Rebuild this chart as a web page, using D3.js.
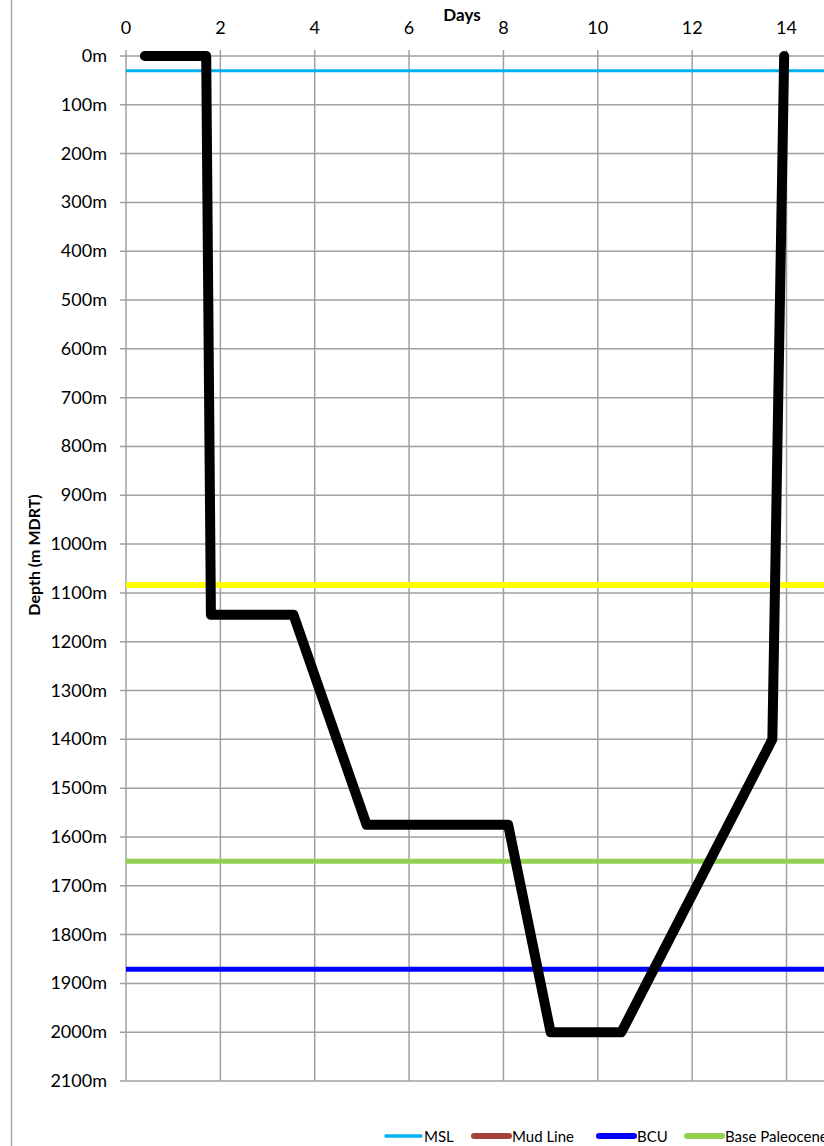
<!DOCTYPE html>
<html>
<head>
<meta charset="utf-8">
<script src="https://cdn.jsdelivr.net/npm/d3@7"></script>
<style>
  body { margin: 0; background: #fff; }
  svg { display: block; font-family: Lato, "Open Sans", sans-serif; }
</style>
</head>
<body>
<div id="chart"></div>
<script>
// Well path: days vs depth (m)
var days = [0.4, 1.7, 1.8, 3.55, 5.1, 8.1, 9.0, 10.5, 13.7, 13.95];
var depth = [0, 0, 1145, 1145, 1575, 1575, 2000, 2000, 1400, 0];
// Formation tops (horizontal lines)
var topNames = ["MSL", "Mud Line", "BCU", "Base Paleocene", "Top Chalk"];
var topDepths = [30, null, 1871, 1650, 1084];
var topColors = ["#00b0f0", "#a5413d", "#0000ff", "#92d050", "#ffff00"];
var topWidths = [3, 5, 5, 5, 6];
var xTicks = [0, 2, 4, 6, 8, 10, 12, 14];
var yTicks = d3.range(0, 2101, 100);

var W = 824, H = 1146;
var svg = d3.select("#chart").append("svg").attr("width", W).attr("height", H);

var x = d3.scaleLinear().domain([0, 16]).range([126, 126 + 16 * 47.18]);
var y = d3.scaleLinear().domain([0, 2100]).range([56, 1081]);

// chart-area border on the left
svg.append("line").attr("x1", 11.5).attr("x2", 11.5).attr("y1", 0).attr("y2", H)
	.attr("stroke", "#a6a6a6").attr("stroke-width", 1.5);

// gridlines
var grid = svg.append("g").attr("stroke", "#a0a0a0").attr("stroke-width", 1.5);
grid.selectAll(".gy").data(yTicks).enter().append("line")
	.attr("x1", 120).attr("x2", x(16)).attr("y1", y).attr("y2", y);
grid.selectAll(".gx").data(xTicks.concat([16])).enter().append("line")
	.attr("x1", x).attr("x2", x).attr("y1", 50).attr("y2", y(2100));

// y axis labels
svg.append("g").selectAll("text").data(yTicks).enter().append("text")
	.attr("x", 107).attr("y", function(d) { return y(d) + 6; })
	.attr("text-anchor", "end").attr("font-size", 18).attr("fill", "#000")
	.text(function(d) { return d + "m"; });

// x axis labels (top)
svg.append("g").selectAll("text").data(xTicks).enter().append("text")
	.attr("x", x).attr("y", 34)
	.attr("text-anchor", "middle").attr("font-size", 18).attr("fill", "#000")
	.text(function(d) { return d; });

// axis titles
svg.append("text").attr("x", 462).attr("y", 21).attr("text-anchor", "middle")
	.attr("font-size", 17).attr("font-weight", "bold").text("Days");
svg.append("text").attr("transform", "translate(40,555) rotate(-90)")
	.attr("text-anchor", "middle").attr("font-size", 16).attr("font-weight", "bold")
	.text("Depth (m MDRT)");

// formation tops
topNames.forEach(function(n, i) {
	if (topDepths[i] === null) return;
	svg.append("line").attr("x1", x(0)).attr("x2", x(16))
		.attr("y1", y(topDepths[i])).attr("y2", y(topDepths[i]))
		.attr("stroke", topColors[i]).attr("stroke-width", topWidths[i]);
});

// well path
var line = d3.line().x(function(d) { return x(d[0]); }).y(function(d) { return y(d[1]); });
svg.append("path").datum(d3.zip(days, depth)).attr("d", line)
	.attr("fill", "none").attr("stroke", "#000").attr("stroke-width", 10)
	.attr("stroke-linejoin", "round").attr("stroke-linecap", "round");

// legend (last entries run off the right edge, as in the original)
var legX = [386, 474, 599, 687];
var leg = svg.append("g").attr("font-size", 15);
legX.forEach(function(lx, i) {
	leg.append("line").attr("x1", lx).attr("x2", lx + 35)
		.attr("y1", 1136).attr("y2", 1136)
		.attr("stroke", topColors[i]).attr("stroke-width", i === 0 ? 3.5 : 6)
		.attr("stroke-linecap", "round");
	leg.append("text").attr("x", lx + 38).attr("y", 1142).text(topNames[i]);
});
</script>
</body>
</html>
